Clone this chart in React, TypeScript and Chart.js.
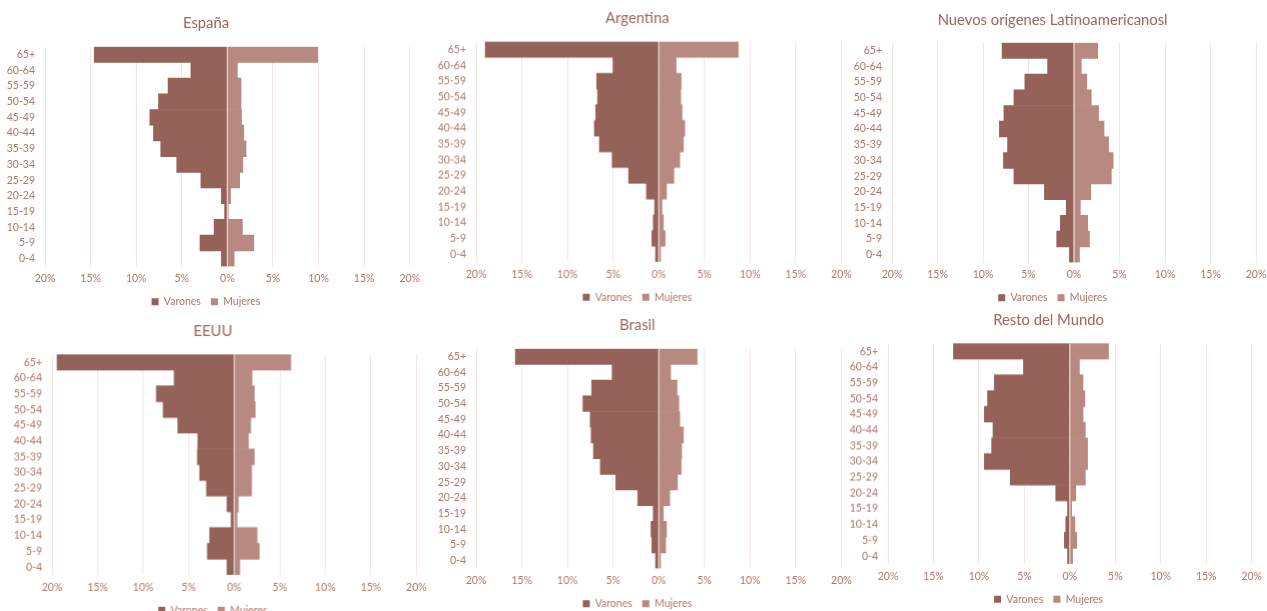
import React, { useEffect, useRef } from "react";
import { Chart, registerables } from "chart.js";

Chart.register(...registerables);

const AGE_GROUPS = ["65+", "60-64", "55-59", "50-54", "45-49", "40-44", "35-39", "30-34", "25-29", "20-24", "15-19", "10-14", "5-9", "0-4"];
const X_TICKS = [-20, -15, -10, -5, 0, 5, 10, 15, 20];
const SERIES_NAMES = ["Varones", "Mujeres"];

const ESPANA_VARONES = [14.6, 4.0, 6.5, 7.55, 8.5, 8.1, 7.3, 5.55, 2.9, 0.65, 0.3, 1.45, 3.0, 0.65];
const ESPANA_MUJERES = [9.9, 1.1, 1.5, 1.5, 1.55, 1.8, 2.05, 1.7, 1.35, 0.35, 0.1, 1.65, 2.9, 0.75];

const ARGENTINA_VARONES = [19.0, 5.0, 6.8, 6.7, 6.9, 7.05, 6.5, 5.1, 3.3, 1.35, 0.45, 0.6, 0.75, 0.35];
const ARGENTINA_MUJERES = [8.7, 1.9, 2.45, 2.4, 2.55, 2.85, 2.7, 2.3, 1.65, 0.85, 0.35, 0.5, 0.7, 0.2];

const NUEVOS_VARONES = [7.9, 2.9, 5.4, 6.6, 7.7, 8.2, 7.3, 7.75, 6.6, 3.25, 0.85, 1.5, 1.9, 0.5];
const NUEVOS_MUJERES = [2.6, 0.8, 1.4, 1.9, 2.7, 3.3, 3.8, 4.3, 4.1, 1.85, 0.7, 1.5, 1.7, 0.6];

const EEUU_VARONES = [19.45, 6.6, 8.55, 7.8, 6.2, 4.0, 4.05, 3.8, 3.05, 0.8, 0.35, 2.7, 2.95, 0.8];
const EEUU_MUJERES = [6.2, 1.95, 2.2, 2.3, 1.8, 1.55, 2.2, 1.9, 1.9, 0.45, 0.3, 2.5, 2.75, 0.6];

const BRASIL_VARONES = [15.7, 5.1, 7.35, 8.3, 7.5, 7.4, 7.15, 6.4, 4.7, 2.3, 0.6, 0.85, 0.75, 0.35];
const BRASIL_MUJERES = [4.2, 1.3, 2.0, 2.2, 2.3, 2.7, 2.5, 2.45, 2.05, 1.2, 0.5, 0.85, 0.75, 0.2];

const RESTO_VARONES = [12.8, 5.1, 8.3, 9.05, 9.4, 8.45, 8.6, 9.4, 6.55, 1.55, 0.25, 0.45, 0.6, 0.25];
const RESTO_MUJERES = [4.25, 1.05, 1.45, 1.65, 1.45, 1.7, 1.95, 1.95, 1.7, 0.65, 0.2, 0.55, 0.75, 0.3];

const TITLES = ["España", "Argentina", "Nuevos orígenes Latinoamericanosl", "EEUU", "Brasil", "Resto del Mundo"];

// Layout frames (plot area edges and title centre, page pixels)
const FRAMES = [
  { L: 45, R: 412, T: 46.7, B: 265, titleY: 23 },
  { L: 476, R: 842.7, T: 41.6, B: 259.6, titleY: 18 },
  { L: 891.7, R: 1258, T: 42.2, B: 260.5, titleY: 19.5 },
  { L: 52.3, R: 418, T: 354.3, B: 572.5, titleY: 331 },
  { L: 476, R: 842.7, T: 348.7, B: 567, titleY: 325 },
  { L: 888.3, R: 1254.3, T: 343.3, B: 561.5, titleY: 320 },
];

const SERIES = [
  [ESPANA_VARONES, ESPANA_MUJERES],
  [ARGENTINA_VARONES, ARGENTINA_MUJERES],
  [NUEVOS_VARONES, NUEVOS_MUJERES],
  [EEUU_VARONES, EEUU_MUJERES],
  [BRASIL_VARONES, BRASIL_MUJERES],
  [RESTO_VARONES, RESTO_MUJERES],
];

const FONT = "Lato, 'Open Sans', sans-serif";
const TEXT_COLOR = "#b0766d";
const TITLE_COLOR = "#9f645b";
const GRID_COLOR = "#f3e5e3";
const VARONES_COLOR = "#95625a";
const MUJERES_COLOR = "#b78981";

const YW = 45;
const PR = 14;
const XH = 20;
const LH = 32;
const TITLE_LH = 18;
const TITLE_SIZE = 14.8;
const TICK_SIZE = 10.5;

const zeroLine = {
  id: "zeroLine",
  afterDatasetsDraw(chart: any) {
    const x = chart.scales.x.getPixelForValue(0);
    const { top, bottom } = chart.chartArea;
    const ctx = chart.ctx;
    ctx.save();
    ctx.strokeStyle = "rgba(240,222,218,0.9)";
    ctx.lineWidth = 1.2;
    ctx.beginPath();
    ctx.moveTo(x, top);
    ctx.lineTo(x, bottom);
    ctx.stroke();
    ctx.restore();
  },
};

function Pyramid({ index }: { index: number }) {
  const ref = useRef<HTMLCanvasElement | null>(null);
  const f = FRAMES[index];
  const left = f.L - YW;
  const top = f.titleY - TITLE_LH / 2;
  const width = f.R - f.L + YW + PR;
  const height = f.B - top + XH + LH;

  useEffect(() => {
    if (!ref.current) return;
    const [v, m] = SERIES[index];
    const chart = new Chart(ref.current, {
      type: "bar",
      data: {
        labels: AGE_GROUPS,
        datasets: [
          {
            label: SERIES_NAMES[0],
            data: v.map((d) => -d),
            backgroundColor: VARONES_COLOR,
            barPercentage: 1,
            categoryPercentage: 1,
          },
          {
            label: SERIES_NAMES[1],
            data: m,
            backgroundColor: MUJERES_COLOR,
            barPercentage: 1,
            categoryPercentage: 1,
          },
        ],
      },
      options: {
        indexAxis: "y",
        animation: false,
        responsive: true,
        maintainAspectRatio: false,
        layout: { padding: { left: 0, right: PR, top: 0, bottom: 0 } },
        scales: {
          x: {
            stacked: true,
            min: -20,
            max: 20,
            afterBuildTicks: (scale: any) => {
              scale.ticks = X_TICKS.map((value) => ({ value }));
            },
            afterFit: (scale: any) => {
              scale.height = XH;
            },
            grid: { color: GRID_COLOR, drawTicks: false, lineWidth: 1 },
            border: { display: false },
            ticks: {
              color: TEXT_COLOR,
              font: { family: FONT, size: TICK_SIZE },
              padding: 6,
              maxRotation: 0,
              callback: (val: any) => Math.abs(Number(val)) + "%",
            },
          },
          y: {
            stacked: true,
            afterFit: (scale: any) => {
              scale.width = YW;
            },
            grid: { display: false, drawTicks: false },
            border: { display: false },
            ticks: {
              color: TEXT_COLOR,
              font: { family: FONT, size: TICK_SIZE },
              padding: 10,
              autoSkip: false,
            },
          },
        },
        plugins: {
          title: {
            display: true,
            text: TITLES[index],
            color: TITLE_COLOR,
            font: { family: FONT, size: TITLE_SIZE, weight: "normal", lineHeight: TITLE_LH / TITLE_SIZE },
            padding: { top: 0, bottom: f.T - f.titleY - TITLE_LH / 2 },
          },
          legend: {
            position: "bottom",
            labels: {
              color: TEXT_COLOR,
              font: { family: FONT, size: TICK_SIZE },
              boxWidth: 7,
              boxHeight: 7,
              padding: 10,
            },
          },
          tooltip: { enabled: false },
        },
      },
      plugins: [zeroLine],
    } as any);
    return () => chart.destroy();
  }, [index]);

  return (
    <div style={{ position: "absolute", left, top, width, height }}>
      <canvas ref={ref} />
    </div>
  );
}

export default function App() {
  return (
    <div style={{ position: "absolute", left: 0, top: 0, width: 1267, height: 611, overflow: "hidden", background: "#fff" }}>
      {FRAMES.map((_, i) => (
        <Pyramid key={i} index={i} />
      ))}
    </div>
  );
}
